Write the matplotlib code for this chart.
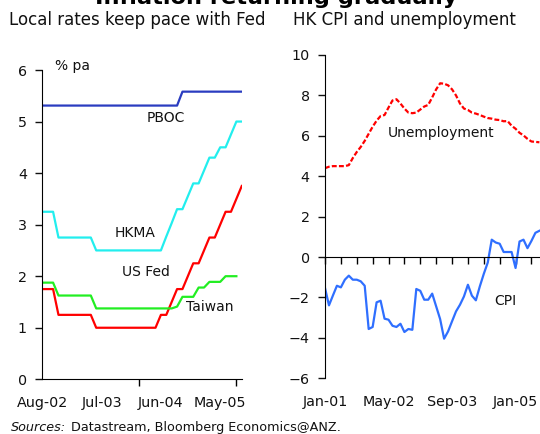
import matplotlib
matplotlib.use("Agg")
import matplotlib.pyplot as plt
import numpy as np

plt.rcParams['font.family'] = ['DejaVu Sans']

# ---------------- Left panel data (monthly, Aug-02 = 0) ----------------
left_tick_labels = ["Aug-02", "Jul-03", "Jun-04", "May-05"]
left_label_pos = [0, 11, 22, 33]
left_tick_pos = [0, 18, 36]

pboc = [5.31] * 26 + [5.58] * 12
hkma = ([3.25] * 3 + [2.75] * 7 + [2.5] * 13 +
        [2.77, 3.03, 3.3, 3.3, 3.55, 3.8, 3.8, 4.05, 4.3, 4.3, 4.5, 4.5, 4.75, 5.0, 5.0])
usfed = ([1.75] * 3 + [1.25] * 7 + [1.0] * 12 +
         [1.25, 1.25, 1.5, 1.75, 1.75, 2.0, 2.25, 2.25, 2.5, 2.75, 2.75, 3.0, 3.25, 3.25, 3.5, 3.75])
taiwan = ([1.875] * 3 + [1.625] * 7 + [1.375] * 15 +
          [1.41, 1.6, 1.6, 1.6, 1.78, 1.78, 1.89, 1.89, 1.89, 2.0, 2.0, 2.0])

# ---------------- Right panel data (monthly, Jan-01 = 0) ----------------
right_tick_labels = ["Jan-01", "May-02", "Sep-03", "Jan-05"]
right_label_pos = [0, 16, 32, 48]

unemployment = [4.4, 4.47, 4.5, 4.5, 4.5, 4.5, 4.55, 4.9, 5.2, 5.45,
                5.75, 6.1, 6.45, 6.75, 6.98, 7.03, 7.4, 7.75, 7.81, 7.6,
                7.35, 7.15, 7.12, 7.15, 7.3, 7.45, 7.53, 7.9, 8.3, 8.6,
                8.58, 8.5, 8.3, 8.0, 7.6, 7.35, 7.28, 7.15, 7.1, 7.03,
                6.95, 6.88, 6.85, 6.8, 6.78, 6.72, 6.73, 6.5, 6.35, 6.15,
                6.02, 5.85, 5.72, 5.7, 5.68]
cpi = [-1.53, -2.39, -1.9, -1.42, -1.5, -1.12, -0.92, -1.12, -1.12, -1.2,
       -1.42, -3.56, -3.46, -2.24, -2.16, -3.05, -3.1, -3.4, -3.46, -3.3,
       -3.71, -3.56, -3.6, -1.58, -1.67, -2.11, -2.11, -1.81, -2.44, -3.07,
       -4.04, -3.68, -3.18, -2.69, -2.36, -1.95, -1.37, -1.91, -2.14, -1.45,
       -0.83, -0.27, 0.86, 0.72, 0.66, 0.25, 0.25, 0.25, -0.54, 0.77,
       0.86, 0.44, 0.8, 1.2, 1.3]

W, H = 540, 434
fig = plt.figure(figsize=(W / 100, H / 100), dpi=100)

def frac(l, t, r, b):
    return [l / W, 1 - b / H, (r - l) / W, (b - t) / H]

TXT = '#111111'

# ---------------- Left axes ----------------
ax1 = fig.add_axes(frac(42.3, 70, 242.3, 379.3))
lw = 1.6
ax1.plot(np.arange(len(pboc)), pboc, color='#2a3cc0', lw=lw)
ax1.plot(np.arange(len(hkma)), hkma, color='#22eeee', lw=lw)
ax1.plot(np.arange(len(usfed)), usfed, color='#ff0000', lw=lw)
ax1.plot(np.arange(len(taiwan)), taiwan, color='#22ee22', lw=lw)
ax1.set_xlim(0, 37.1)
ax1.set_ylim(0, 6)
for s in ['top', 'right']:
    ax1.spines[s].set_visible(False)
ax1.set_yticks(range(0, 7))
ax1.set_xticks(left_label_pos)
ax1.set_xticklabels(left_tick_labels)
ax1.set_xticks(left_tick_pos, minor=True)
ax1.tick_params(axis='x', which='major', length=0, pad=12, labelsize=10.3, colors=TXT)
ax1.tick_params(axis='x', which='minor', length=5, direction='out', width=1)
ax1.tick_params(axis='y', length=5, width=1, pad=6, labelsize=10.3, colors=TXT)
ax1.text(2.4, 6.08, "% pa", fontsize=10, va='center', ha='left', color=TXT)
ax1.text(23, 5.06, "PBOC", fontsize=10, va='center', ha='center', color=TXT)
ax1.text(17.2, 2.83, "HKMA", fontsize=10, va='center', ha='center', color=TXT)
ax1.text(19.3, 2.08, "US Fed", fontsize=10, va='center', ha='center', color=TXT)
ax1.text(31.1, 1.40, "Taiwan", fontsize=10, va='center', ha='center', color=TXT)

# ---------------- Right axes ----------------
ax2 = fig.add_axes(frac(325, 55, 325 + 56 * 3.97, 378.3))
ax2.plot(np.arange(len(unemployment)), unemployment, color='#ff0000', lw=lw,
         dashes=(2.2, 1.0))
ax2.plot(np.arange(len(cpi)), cpi, color='#2f6fff', lw=lw)
ax2.set_xlim(0, 56)
ax2.set_ylim(-6, 10)
for s in ['top', 'right']:
    ax2.spines[s].set_visible(False)
ax2.spines['bottom'].set_position(('data', 0))
ax2.set_yticks(range(-6, 11, 2))
ax2.tick_params(axis='y', length=5, width=1, pad=6, labelsize=10.3, colors=TXT)
ax2.set_xticks(range(0, 57, 4))
ax2.tick_params(axis='x', length=5, width=1, direction='out', labelbottom=False)
sec = ax2.secondary_xaxis(0.0)
sec.set_xticks(right_label_pos)
sec.set_xticklabels(right_tick_labels)
sec.spines['bottom'].set_visible(False)
sec.tick_params(axis='x', length=0, pad=12, labelsize=10.3, colors=TXT)
ax2.text(29.2, 6.13, "Unemployment", fontsize=10, va='center', ha='center', color=TXT)
ax2.text(45.3, -2.19, "CPI", fontsize=10, va='center', ha='center', color=TXT)

# ---------------- Titles and source ----------------
fig.text(276.5 / W, 1 - 4.5 / H, "Inflation returning gradually", fontsize=16.2,
         fontweight='bold', ha='center', va='baseline', color='#000000')
fig.text(9.3 / W, 1 - 25 / H, "Local rates keep pace with Fed", fontsize=12,
         ha='left', va='baseline', color=TXT)
fig.text(293.3 / W, 1 - 25 / H, "HK CPI and unemployment", fontsize=12,
         ha='left', va='baseline', color=TXT)
fig.text(11 / W, 1 - 431 / H, "Sources:", fontsize=9.2, style='italic',
         ha='left', va='baseline', color=TXT)
fig.text(70.7 / W, 1 - 431 / H, "Datastream, Bloomberg Economics@ANZ.", fontsize=9.2,
         ha='left', va='baseline', color=TXT)

fig.savefig("out.png", dpi=100)
